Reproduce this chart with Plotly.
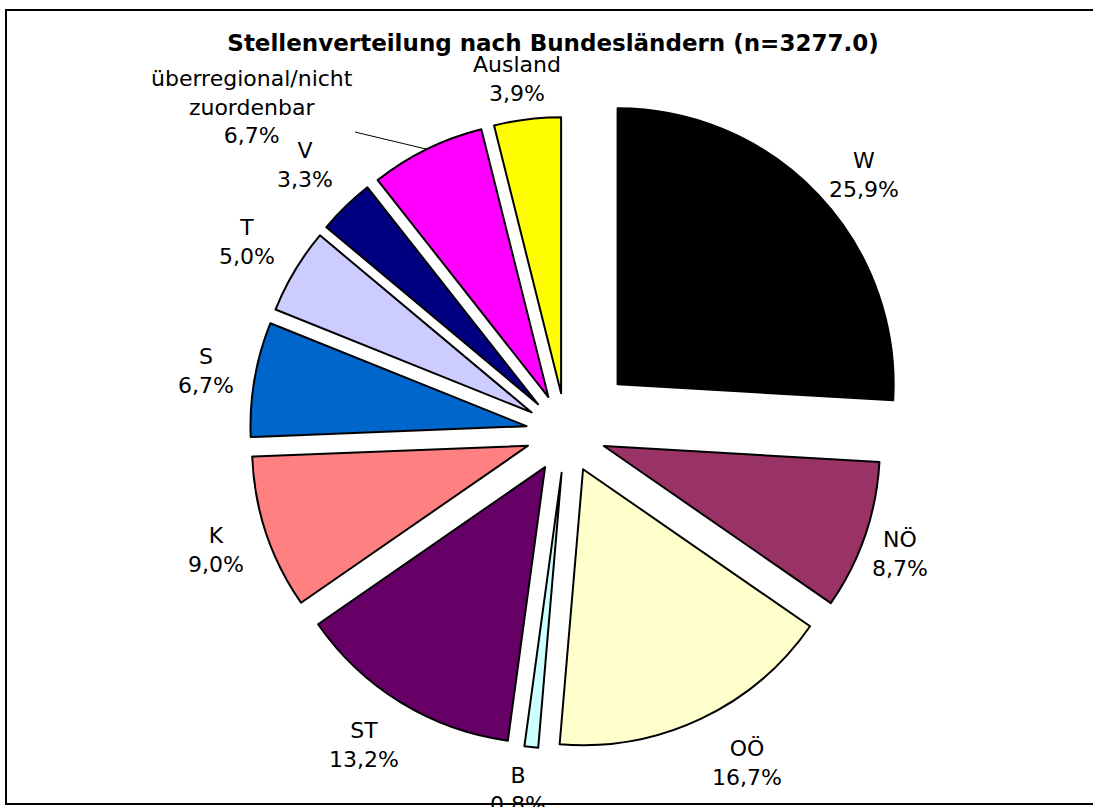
import math
import plotly.graph_objects as go

names = ["W", "NÖ", "OÖ", "B", "ST", "K", "S", "T", "V",
         "überregional/nicht<br>zuordenbar", "Ausland"]
values = [25.9, 8.7, 16.7, 0.8, 13.2, 9.0, 6.7, 5.0, 3.3, 6.7, 3.9]
title_text = "Stellenverteilung nach Bundesländern (n=3277.0)"

# styling
colors = ["#000000", "#993366", "#FFFFCC", "#CCFFFF", "#660066", "#FF8080",
          "#0066CC", "#CCCCFF", "#000080", "#FF00FF", "#FFFF00"]
pulls = [0.257, 0.145, 0.145, 0.145, 0.145, 0.145, 0.145, 0.145, 0.145, 0.145, 0.145]
label_dist = [1.17, 1.14, 1.22, 1.16, 1.20, 1.19, 1.18, 1.20, 1.21, 1.50, 1.15]
label_turn = [3, 1, -4, 1.5, 1.5, 0, 0, 0, 0, -19.5, -1]
leader = [False] * 9 + [True, False]

W, H = 1093, 807
dom_px_x = (219, 913)
dom_px_y = (86, 780)

fig = go.Figure(go.Pie(
    labels=[n.replace("<br>", " ") for n in names],
    values=values,
    sort=False,
    direction="clockwise",
    rotation=0,
    pull=pulls,
    marker=dict(colors=colors, line=dict(color="#000000", width=2)),
    textinfo="none",
    showlegend=False,
    automargin=False,
    hoverinfo="label+percent",
    domain=dict(x=[dom_px_x[0] / W, dom_px_x[1] / W],
                y=[1 - dom_px_y[1] / H, 1 - dom_px_y[0] / H]),
))

# label placement derived from the pie geometry plotly uses
cx = (dom_px_x[0] + dom_px_x[1]) / 2
cy = (dom_px_y[0] + dom_px_y[1]) / 2
r = min(dom_px_x[1] - dom_px_x[0], dom_px_y[1] - dom_px_y[0]) / 2 / (1 + max(pulls))
total = sum(values)
annotations = []
cum = 0.0
for name, v, p, d, t, ld in zip(names, values, pulls, label_dist, label_turn, leader):
    mid = math.radians((cum + v / 2) / total * 360)
    cum += v
    ex = cx + p * r * math.sin(mid)
    ey = cy - p * r * math.cos(mid)
    la = mid + math.radians(t)
    lx = ex + d * r * math.sin(la)
    ly = ey - d * r * math.cos(la)
    pct = f"{v / total * 100:.1f}".replace(".", ",") + "%"
    text = f"{name}<br>{pct}"
    font = dict(family="DejaVu Sans", size=22, color="#000000")
    if ld:
        px = ex + r * math.sin(mid)
        py = ey - r * math.cos(mid)
        annotations.append(dict(x=px / W, y=1 - py / H, xref="paper", yref="paper",
                                text=text, showarrow=True, arrowhead=0, arrowwidth=1,
                                arrowcolor="#000000", ax=lx - px, ay=ly - py,
                                xanchor="center", yanchor="middle", font=font))
    else:
        annotations.append(dict(x=lx / W, y=1 - ly / H, xref="paper", yref="paper",
                                text=text, showarrow=False,
                                xanchor="center", yanchor="middle", font=font))

fig.update_layout(
    width=W, height=H, autosize=False,
    margin=dict(l=0, r=0, t=0, b=0, pad=0, autoexpand=False),
    paper_bgcolor="#FFFFFF",
    title=dict(text="<b>" + title_text + "</b>", x=553 / W, xanchor="center",
               y=1 - 43 / H, yanchor="middle", xref="paper", yref="paper",
               automargin=False,
               font=dict(family="DejaVu Sans", size=23, color="#000000")),
    annotations=annotations,
    shapes=[dict(type="rect", xref="paper", yref="paper",
                 x0=6 / W, x1=1.02, y0=1 - 804 / H, y1=1 - 10 / H,
                 line=dict(color="#000000", width=2), fillcolor="rgba(0,0,0,0)")],
)

fig.write_html("out.html")
